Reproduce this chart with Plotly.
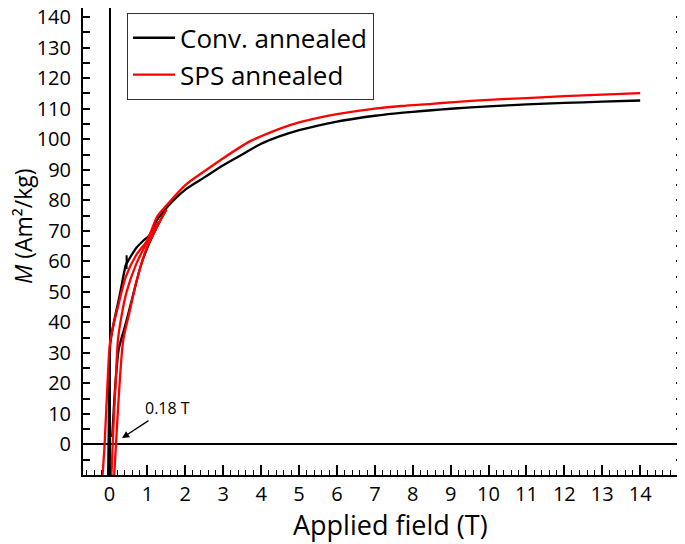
import plotly.graph_objects as go

# Conv. annealed: descending branch (from 14 T)
conv_upper_h = [14, 13, 12, 11, 10, 9, 8.5, 8, 7.5, 7, 6.5, 6, 5.5, 5, 4.5, 4, 3.5, 3, 2.5, 2,
                1.5, 1.25, 1.05, 0.91, 0.7, 0.46, 0.43, 0.26, 0.09, 0.02, 0.0, -0.02, -0.04]
conv_upper_m = [112.7, 112.3, 111.9, 111.4, 110.8, 110.0, 109.5, 109.0, 108.4, 107.7, 106.8, 105.8,
                104.5, 103.0, 101.0, 98.5, 95.0, 91.5, 87.5, 83.5, 77.5, 73.5, 68.5, 67.0, 64.3,
                59.5, 58.8, 48.4, 38.5, 33.0, 25.0, 5.0, -13.0]
# small glitch on the conv. curve near 0.45 T
conv_spike_h = [0.46, 0.45, 0.45, 0.43]
conv_spike_m = [59.5, 62.0, 57.5, 58.8]
# Conv. annealed: ascending branch at low field
conv_lower_h = [0.07, 0.15, 0.24, 0.32, 0.43, 0.61, 0.83, 1.05, 1.3, 1.5]
conv_lower_m = [2.4, 19.0, 31.0, 35.0, 39.7, 48.4, 58.8, 66.0, 72.5, 77.0]

# SPS annealed: descending branch
sps_upper_h = [14, 13, 12, 11, 10, 9, 8.5, 7.7, 7, 6, 5.5, 5, 4.5, 4, 3.7, 3, 2.5, 2, 1.5,
               1.26, 1.0, 0.7, 0.43, 0.22, 0.1, 0.01, -0.05, -0.13, -0.2]
sps_upper_m = [115.1, 114.6, 114.1, 113.5, 112.9, 112.1, 111.6, 110.9, 110.0, 108.2, 107.0,
               105.5, 103.5, 101.0, 99.3, 93.8, 89.5, 85.0, 78.3, 74.7, 67.0, 62.0, 55.0,
               45.0, 39.0, 33.0, 21.0, 0.0, -13.0]
# SPS annealed: ascending branch and initial curve at low field
sps_lower_h = [0.11, 0.17, 0.24, 0.36, 0.52, 0.7, 0.96, 1.26, 1.5]
sps_lower_m = [-13.0, 0.0, 15.0, 34.0, 43.0, 52.8, 63.7, 71.5, 77.0]
sps_init_h = [0.04, 0.1, 0.16, 0.22, 0.3, 0.45, 0.7, 1.0, 1.3]
sps_init_m = [-13.0, 5.0, 20.0, 34.0, 41.0, 50.0, 59.0, 66.5, 73.0]

x_ticks = list(range(0, 15))
y_ticks = list(range(0, 141, 10))

FONT = "Open Sans"

fig = go.Figure()

fig.add_trace(go.Scatter(
    x=conv_upper_h + [None] + conv_lower_h,
    y=conv_upper_m + [None] + conv_lower_m,
    mode="lines", name="Conv. annealed",
    line=dict(color="black", width=2.3, shape="spline", smoothing=0.8),
))
fig.add_trace(go.Scatter(
    x=conv_spike_h, y=conv_spike_m, mode="lines", showlegend=False,
    line=dict(color="black", width=2),
))
fig.add_trace(go.Scatter(
    x=sps_upper_h + [None] + sps_lower_h + [None] + sps_init_h,
    y=sps_upper_m + [None] + sps_lower_m + [None] + sps_init_m,
    mode="lines", name="SPS annealed",
    line=dict(color="#ff0000", width=2.3, shape="spline", smoothing=0.8),
))

fig.add_annotation(
    x=0.33, y=2.1, ax=1.53, ay=11.9, axref="x", ayref="y",
    text="0.18 T", showarrow=True, arrowhead=2, arrowsize=1.1, arrowwidth=1.3,
    arrowcolor="black", font=dict(family=FONT, size=16, color="black"),
)
fig.add_annotation(
    x=-0.1, y=0.533, xref="paper", yref="paper",
    text="<i>M</i> (Am²/kg)", textangle=-90, showarrow=False,
    xanchor="center", yanchor="middle",
    font=dict(family=FONT, size=23, color="black"),
)
fig.add_annotation(
    x=0.512, y=-0.106, xref="paper", yref="paper",
    text="Applied field (T)", showarrow=False,
    xanchor="center", yanchor="middle",
    font=dict(family=FONT, size=27, color="black"),
)

fig.update_xaxes(
    range=[-0.7, 15.13], tickvals=x_ticks, ticks="inside", ticklen=10, tickwidth=1.5,
    tickcolor="black", minor=dict(dtick=0.2, ticks="inside", ticklen=5, tickwidth=1.2, tickcolor="black"),
    showline=True, linecolor="black", linewidth=2, mirror=True, showgrid=False,
    zeroline=True, zerolinecolor="black", zerolinewidth=1.6,
    tickfont=dict(family=FONT, size=20, color="black"), automargin=False,
)
fig.update_yaxes(
    range=[-10, 143], tickvals=y_ticks, ticks="inside", ticklen=7, tickwidth=1.5,
    tickcolor="black", minor=dict(dtick=5, ticks="inside", ticklen=7, tickwidth=1.5, tickcolor="black"),
    showline=True, linecolor="black", linewidth=2, mirror="ticks", showgrid=False,
    zeroline=True, zerolinecolor="black", zerolinewidth=1.6,
    tickfont=dict(family=FONT, size=20, color="black"), ticklabelstandoff=6,
    ticklabeloverflow="allow", automargin=False,
)

# the page body adds an 8 px offset, so the figure is sized to fill the rest
fig.update_layout(
    width=677, height=536,
    margin=dict(l=75, r=2, t=0, b=69),
    plot_bgcolor="white", paper_bgcolor="white",
    font=dict(family=FONT, color="black"),
    showlegend=True,
    legend=dict(
        x=0.073, y=0.989, xanchor="left", yanchor="top",
        bgcolor="white", bordercolor="#333", borderwidth=1.2,
        font=dict(family=FONT, size=26, color="black"),
        itemwidth=42,
    ),
)

fig.write_html("out.html")
